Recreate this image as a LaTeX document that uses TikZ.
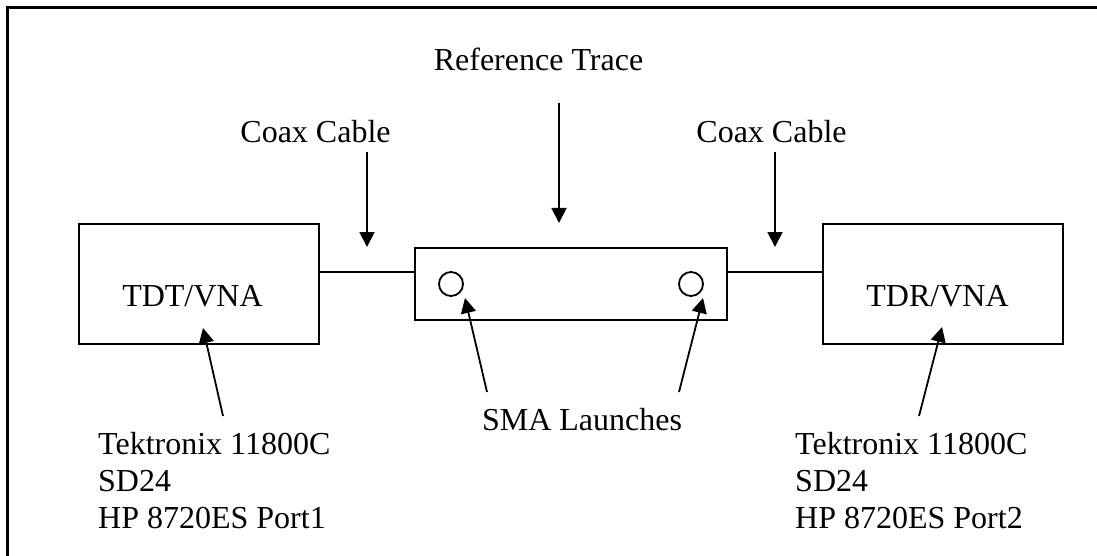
\documentclass[tikz,border=0pt]{standalone}
\usepackage{fontspec}
\setmainfont{Liberation Serif}
\usetikzlibrary{arrows.meta}
\begin{document}
\begin{tikzpicture}[x=1pt,y=-1pt,
  every node/.style={font=\fontsize{32}{37}\selectfont, inner sep=0pt},
  boxnode/.style={draw, line width=2pt, minimum width=#1, inner sep=0pt},
  port/.style={draw, circle, line width=1.8pt, minimum size=24pt},
  wire/.style={line width=1.8pt},
  pointer/.style={line width=1.8pt, -{Triangle[length=15pt,width=15pt]}},
  lbl/.style={anchor=base},
  multi/.style={anchor=north west, align=left}]
\useasboundingbox (0,0) rectangle (1097,556);
% frame
\draw[line width=3pt] (7,560) -- (7,8) -- (1097,8);
% boxes
\node[boxnode=240pt, minimum height=120pt] (lbox) at (199,284) {};
\node[boxnode=312pt, minimum height=72pt] (mbox) at (571,284) {};
\node[boxnode=240pt, minimum height=120pt] (rbox) at (943,284) {};
\node[lbl] (ltext) at (192.5,306) {TDT/VNA};
\node[lbl] (rtext) at (937.5,306) {TDR/VNA};
% ports
\node[port] (p1) at (451,284) {};
\node[port] (p2) at (691,284) {};
% cables
\draw[wire] ([yshift=12pt]lbox.east) -- ([yshift=12pt]mbox.west);
\draw[wire] ([yshift=12pt]mbox.east) -- ([yshift=12pt]rbox.west);
% top labels
\node[lbl] (reftrace) at (538.5,71) {Reference Trace};
\node[lbl] (coaxL) at (315.5,143) {Coax Cable};
\node[lbl] (coaxR) at (771.5,143) {Coax Cable};
\coordinate (rtS) at (559,103);
\coordinate (rtE) at (559,223);
\coordinate (cLS) at (367,152);
\coordinate (cLE) at (367,247);
\coordinate (cRS) at (775,152);
\coordinate (cRE) at (775,247);
\draw[pointer] (rtS) -- (rtE);
\draw[pointer] (cLS) -- (cLE);
\draw[pointer] (cRS) -- (cRE);
% bottom labels
\node[lbl] (sma) at (582,430) {SMA Launches};
\node[multi] (instL) at (98,432) {Tektronix 11800C\\SD24\\HP 8720ES Port1};
\node[multi] (instR) at (795,432) {Tektronix 11800C\\SD24\\HP 8720ES Port2};
\coordinate (aL1) at (223,416);
\coordinate (aL2) at (203,328);
\coordinate (aR1) at (919,416);
\coordinate (aR2) at (942,327);
\coordinate (s1a) at (487,392);
\coordinate (s1b) at (465,298);
\coordinate (s2a) at (679,392);
\coordinate (s2b) at (703,298);
\draw[pointer] (aL1) -- (aL2);
\draw[pointer] (aR1) -- (aR2);
\draw[pointer] (s1a) -- (s1b);
\draw[pointer] (s2a) -- (s2b);
\end{tikzpicture}
\end{document}
